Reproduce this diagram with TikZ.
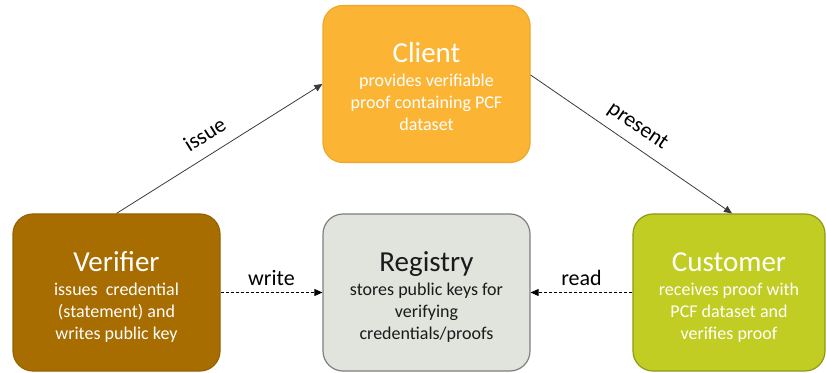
\documentclass[tikz,border=0pt]{standalone}
\usepackage{fontspec}
\setmainfont{Carlito}
\usetikzlibrary{arrows.meta}
\definecolor{clientfill}{HTML}{FBB433}
\definecolor{clientdraw}{HTML}{EFA62A}
\definecolor{verfill}{HTML}{A76D00}
\definecolor{verdraw}{HTML}{966200}
\definecolor{regfill}{HTML}{E1E3DD}
\definecolor{regdraw}{HTML}{7F7F7F}
\definecolor{custfill}{HTML}{C1CD23}
\definecolor{custdraw}{HTML}{8E9A17}
\definecolor{linegray}{HTML}{3A3A3A}
\definecolor{regtext}{HTML}{1A1A1A}
\newcommand{\boxtitle}[1]{\rule{0pt}{31pt}{\fontsize{29}{29}\selectfont #1}}
\newcommand{\lastline}[1]{#1\rule[-6pt]{0pt}{6pt}}
\begin{document}
\begin{tikzpicture}[x=1pt,y=1pt,
  box/.style={rectangle, rounded corners=20pt, line width=1.2pt,
    minimum width=207pt, minimum height=157pt, align=center, inner sep=0pt,
    font=\fontsize{18}{22}\selectfont},
  conn/.style={draw=linegray, line width=0.8pt, -{Triangle[length=8pt,width=7pt]}},
  dconn/.style={draw=black, line width=0.8pt, dash pattern=on 3pt off 2pt, -{Triangle[length=8pt,width=7pt]}},
  lbl/.style={font=\fontsize{22}{22}\selectfont, text=black}
]
\useasboundingbox (0,0) rectangle (826,372);
\node[box, fill=clientfill, draw=clientdraw, text=white] (client) at (426.5,288)
  {\boxtitle{Client}\\[2pt]provides verifiable\\proof containing PCF\\\lastline{dataset}};
\node[box, fill=verfill, draw=verdraw, text=white] (verifier) at (116.5,79.5)
  {\boxtitle{Verifier}\\[2pt]issues\ \ credential\\(statement) and\\\lastline{writes public key}};
\node[box, fill=regfill, draw=regdraw, text=regtext] (registry) at (426.5,79.5)
  {\boxtitle{Registry}\\[2pt]stores public keys for\\verifying\\\lastline{credentials/proofs}};
\node[box, minimum width=192pt, fill=custfill, draw=custdraw, text=white] (customer) at (729,79.5)
  {\boxtitle{Customer}\\[2pt]receives proof with\\PCF dataset and\\\lastline{verifies proof}};
\draw[conn] (verifier.north) -- node[lbl, sloped, above, inner sep=12pt, pos=0.48] (issuelbl) {issue} (client.west);
\draw[conn] ([yshift=9pt]client.east) -- node[lbl, sloped, above, inner sep=9pt, pos=0.48] (presentlbl) {present} ([xshift=3pt]customer.north);
\draw[dconn] (verifier.east) -- node[lbl, above, inner sep=6pt] (writelbl) {write} (registry.west);
\draw[dconn] (customer.west) -- node[lbl, above, inner sep=6pt] (readlbl) {read} (registry.east);
\end{tikzpicture}
\end{document}
